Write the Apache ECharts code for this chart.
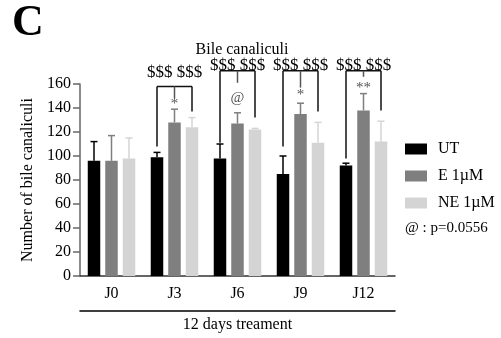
<!DOCTYPE html>
<html>
<head>
<meta charset="utf-8">
<script src="https://cdn.jsdelivr.net/npm/echarts@6/dist/echarts.min.js"></script>
<style>html,body{margin:0;padding:0;background:#fff}#c{width:501px;height:338px}</style>
</head>
<body>
<div id="c"></div>
<script>
// ---- data ----
const categories = ['J0', 'J3', 'J6', 'J9', 'J12'];
const seriesNames = ['UT', 'E 1µM', 'NE 1µM'];
const utMean = [96, 99, 98, 85, 92];
const utSD   = [16, 4, 12, 15, 2];
const eMean  = [96, 128, 127, 135, 138];
const eSD    = [21, 11, 9, 9, 14];
const neMean = [98, 124, 122, 111, 112];
const neSD   = [17, 8, 1, 17, 17];
// significance brackets (values in data units)
const bracketTop   = [null, 158, 171, 171, 171];
const bracketLeft  = [null, 108, 111, 108, 98];
const bracketMid   = [null, 148, 161, 157, 166];
const bracketRight = [null, 137, 132, 137, 138];
const dollarText   = ['', '$$$ $$$', '$$$ $$$', '$$$ $$$', '$$$ $$$'];
const dollarValue  = [null, 169.5, 175.5, 175.5, 175.5];
const sigText      = ['', '*', '@', '*', '**'];
const sigValue     = [null, 143, 148, 151, 157];
const yTicks = { min: 0, max: 160, interval: 20 };

const FONT = 'serif';
const colors = ['#000000', '#7f7f7f', '#d4d4d4'];
const BAR_W = 12.5, STEP = 17.5;

const chart = echarts.init(document.getElementById('c'), null, { renderer: 'canvas' });

function errSeries(mean, sd, idx) {
  return {
    type: 'custom', name: seriesNames[idx] + ' err', silent: true, z: 1,
    data: mean.map((m, i) => [i, m + sd[i], m]),
    renderItem: function (params, api) {
      const off = (idx - 1) * STEP;
      const top = api.coord([api.value(0), api.value(1)]);
      const base = api.coord([api.value(0), api.value(2)]);
      const x = top[0] + off;
      return {
        type: 'group',
        children: [
          { type: 'line', shape: { x1: x, y1: base[1], x2: x, y2: top[1] }, style: { stroke: colors[idx], lineWidth: 1.5 } },
          { type: 'line', shape: { x1: x - 3.5, y1: top[1], x2: x + 3.5, y2: top[1] }, style: { stroke: colors[idx], lineWidth: 1.5 } }
        ]
      };
    }
  };
}

const bracketData = categories.map((c, i) => [i, bracketTop[i], bracketLeft[i], bracketMid[i], bracketRight[i], dollarValue[i], sigValue[i]]).filter(d => d[1] != null);

const option = {
  animation: false,
  title: {
    text: 'Bile canaliculi', left: 237, top: 37, textAlign: 'center',
    textStyle: { fontFamily: FONT, fontSize: 16, fontWeight: 'normal', color: '#000' }
  },
  legend: {
    data: seriesNames, orient: 'vertical', left: 400, top: 136,
    itemWidth: 22, itemHeight: 11, itemGap: 11, icon: 'rect',
    textStyle: { fontFamily: FONT, fontSize: 16, color: '#000', padding: [0, 0, 0, 6] }
  },
  graphic: [
    { type: 'text', left: 12, top: 2, style: { text: 'C', fontFamily: FONT, fontWeight: 'bold', fontSize: 44, fill: '#000' } },
    { type: 'text', left: 405, top: 221, style: { text: '@ : p=0.0556', fontFamily: FONT, fontSize: 15, fill: '#000' } }
  ],
  grid: { left: 80, right: 106, top: 84, bottom: 59 },
  xAxis: [
    {
      type: 'category', data: categories,
      axisLine: { lineStyle: { color: '#333', width: 1.5 } },
      axisTick: { alignWithLabel: true, length: 6, lineStyle: { color: '#333', width: 1.5 } },
      axisLabel: { fontFamily: FONT, fontSize: 16, color: '#000', margin: 10 }
    },
    {
      type: 'category', data: categories, position: 'bottom', offset: 35,
      axisLine: { lineStyle: { color: '#000', width: 1.5 } },
      axisTick: { show: false }, axisLabel: { show: false },
      name: '12 days treament', nameLocation: 'middle', nameGap: 6,
      nameTextStyle: { fontFamily: FONT, fontSize: 16, color: '#000', verticalAlign: 'top' }
    }
  ],
  yAxis: {
    type: 'value', min: yTicks.min, max: yTicks.max, interval: yTicks.interval,
    splitLine: { show: false },
    axisLine: { show: true, lineStyle: { color: '#666', width: 1.5 } },
    axisTick: { show: true, length: 7, lineStyle: { color: '#666', width: 1.5 } },
    axisLabel: { fontFamily: FONT, fontSize: 16, color: '#000', margin: 9 },
    name: 'Number of bile canaliculi', nameLocation: 'middle', nameRotate: 90, nameGap: 40,
    nameTextStyle: { fontFamily: FONT, fontSize: 16, color: '#000' }
  },
  series: [
    { type: 'bar', name: seriesNames[0], data: utMean, barWidth: BAR_W, barGap: '40%', itemStyle: { color: colors[0] }, z: 2 },
    { type: 'bar', name: seriesNames[1], data: eMean, barWidth: BAR_W, barGap: '40%', itemStyle: { color: colors[1] }, z: 2 },
    { type: 'bar', name: seriesNames[2], data: neMean, barWidth: BAR_W, barGap: '40%', itemStyle: { color: colors[2] }, z: 2 },
    errSeries(utMean, utSD, 0),
    errSeries(eMean, eSD, 1),
    errSeries(neMean, neSD, 2),
    {
      type: 'custom', name: 'brackets', silent: true, clip: false, z: 3,
      data: bracketData,
      renderItem: function (params, api) {
        const i = api.value(0);
        const c = api.coord([i, api.value(1)]);
        const xl = c[0] - STEP, xm = c[0], xr = c[0] + STEP;
        const yt = c[1];
        const yl = api.coord([i, api.value(2)])[1];
        const ym = api.coord([i, api.value(3)])[1];
        const yr = api.coord([i, api.value(4)])[1];
        const yd = api.coord([i, api.value(5)])[1];
        const ys = api.coord([i, api.value(6)])[1];
        const st = { stroke: '#111', lineWidth: 1.5 };
        return {
          type: 'group',
          children: [
            { type: 'line', shape: { x1: xl, y1: yt, x2: xr, y2: yt }, style: st },
            { type: 'line', shape: { x1: xl, y1: yt, x2: xl, y2: yl }, style: st },
            { type: 'line', shape: { x1: xm, y1: yt, x2: xm, y2: ym }, style: { stroke: '#555', lineWidth: 1.5 } },
            { type: 'line', shape: { x1: xr, y1: yt, x2: xr, y2: yr }, style: st },
            { type: 'text', style: { text: dollarText[i], x: xm, y: yd, align: 'center', verticalAlign: 'middle', fontFamily: FONT, fontSize: 17, fill: '#000' } },
            { type: 'text', style: { text: sigText[i], x: xm, y: ys, align: 'center', verticalAlign: 'middle', fontFamily: FONT, fontSize: 15, fill: '#555' } }
          ]
        };
      }
    }
  ]
};
chart.setOption(option);
</script>
</body>
</html>
